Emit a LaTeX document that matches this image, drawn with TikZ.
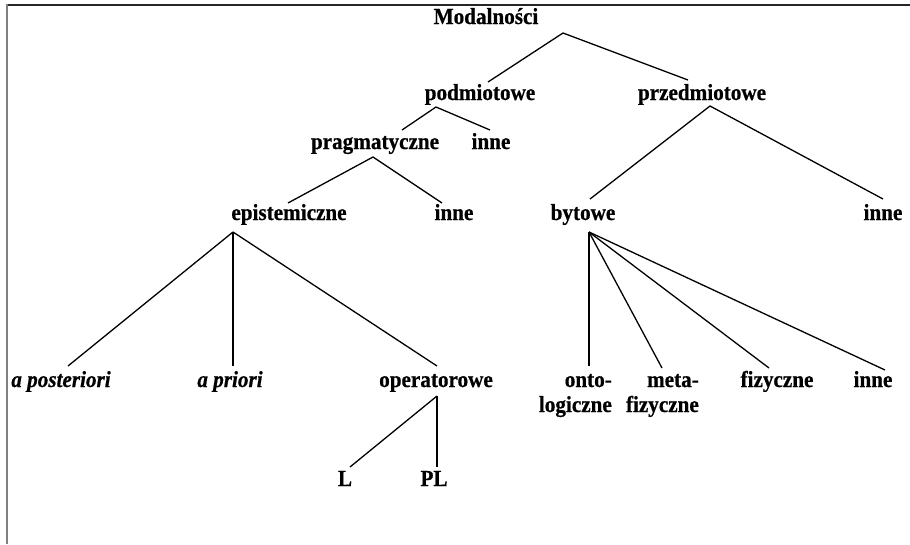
\documentclass[tikz,border=0pt]{standalone}
\usepackage{fontspec}
\setmainfont[FakeStretch=0.92,
  BoldFeatures={FakeBold=0.6},
  BoldItalicFeatures={FakeBold=0.6}]{Liberation Serif}
\begin{document}
\begin{tikzpicture}[x=1pt,y=-1pt,
  lbl/.style={font=\fontsize{23}{25}\selectfont\bfseries, inner sep=0pt, anchor=base},
  ilbl/.style={lbl, font=\fontsize{23}{25}\selectfont\bfseries\itshape},
  edge/.style={line width=1.3pt, black}]
\useasboundingbox (0,0) rectangle (910,544);
% frame
\draw[line width=2pt, black!85] (6,5) -- (910,5);
\draw[line width=2pt, black!50] (7,4) -- (7,544);
% nodes
\node[lbl] (mod) at (486,24) {Modalności};
\node[lbl] (pod) at (480,100) {podmiotowe};
\node[lbl] (przed) at (702,100) {przedmiotowe};
\node[lbl] (prag) at (375,149) {pragmatyczne};
\node[lbl] (inneA) at (491,149) {inne};
\node[lbl] (epi) at (289,220) {epistemiczne};
\node[lbl] (inneB) at (454,220) {inne};
\node[lbl] (byt) at (583,220) {bytowe};
\node[lbl] (inneC) at (883,220) {inne};
\node[ilbl] (apost) at (61,387) {a posteriori};
\node[ilbl] (apri) at (230,387) {a priori};
\node[lbl] (oper) at (436,387) {operatorowe};
\node[lbl, align=right, anchor=base east] (onto) at (612,412) {onto-\\logiczne};
\node[lbl, align=right, anchor=base east] (meta) at (699,412) {meta-\\fizyczne};
\node[lbl] (fiz) at (777,387) {fizyczne};
\node[lbl] (inneD) at (873,387) {inne};
\node[lbl] (L) at (345,486) {L};
\node[lbl] (PL) at (434,486) {PL};
% connector end points
\coordinate (mod-s) at (563,33);
\coordinate (pod-n) at (488,82);
\coordinate (przed-n) at (688,80);
\coordinate (pod-s) at (436,107);
\coordinate (prag-n) at (402,130);
\coordinate (inneA-n) at (490,130);
\coordinate (przed-s) at (710,106);
\coordinate (byt-n) at (590,199);
\coordinate (inneC-n) at (883,199);
\coordinate (prag-s) at (373,157);
\coordinate (epi-n) at (288,203);
\coordinate (inneB-n) at (442,203);
\coordinate (epi-s) at (233,232);
\coordinate (apost-n) at (68,366);
\coordinate (apri-n) at (233,366);
\coordinate (oper-n) at (437,366);
\coordinate (byt-s) at (589,232);
\coordinate (onto-n) at (589,366);
\coordinate (meta-n) at (662,368);
\coordinate (fiz-n) at (769,368);
\coordinate (inneD-n) at (885,370);
\coordinate (oper-s) at (437,396);
\coordinate (L-n) at (350,467);
\coordinate (PL-n) at (437,467);
% connectors
\draw[edge] (pod-n) -- (mod-s) -- (przed-n);
\draw[edge] (prag-n) -- (pod-s) -- (inneA-n);
\draw[edge] (byt-n) -- (przed-s) -- (inneC-n);
\draw[edge] (epi-n) -- (prag-s) -- (inneB-n);
\draw[edge] (epi-s) -- (apost-n);
\draw[edge] (epi-s) -- (apri-n);
\draw[edge] (epi-s) -- (oper-n);
\draw[edge] (byt-s) -- (onto-n);
\draw[edge] (byt-s) -- (meta-n);
\draw[edge] (byt-s) -- (fiz-n);
\draw[edge] (byt-s) -- (inneD-n);
\draw[edge] (oper-s) -- (L-n);
\draw[edge] (oper-s) -- (PL-n);
\end{tikzpicture}
\end{document}
